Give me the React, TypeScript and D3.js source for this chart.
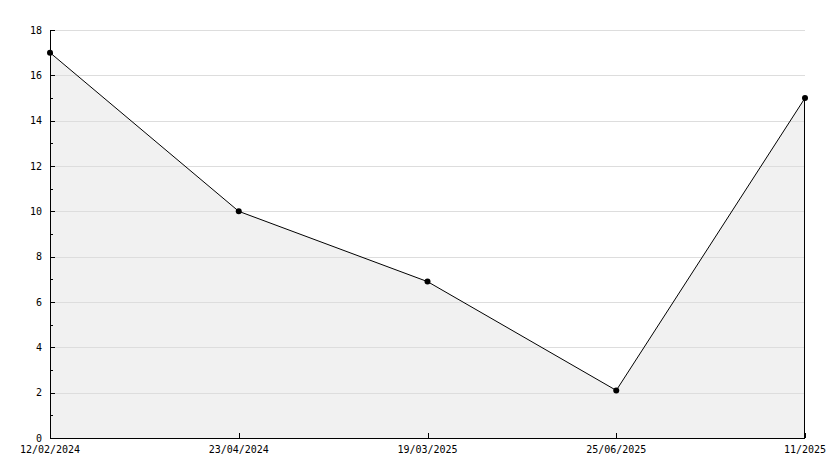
import React from "react";
import * as d3 from "d3";

const categories = ["12/02/2024", "23/04/2024", "19/03/2025", "25/06/2025", "11/2025"];
const values = [17, 10, 6.9, 2.1, 15];
const yMajorTicks = [0, 2, 4, 6, 8, 10, 12, 14, 16, 18];
const yMinorTicks = [1, 3, 5, 7, 9, 11, 13, 15, 17];

export default function App() {
  const W = 834, H = 468;
  const left = 50, right = 805, top = 30, bottom = 438;
  const x = d3.scalePoint<string>().domain(categories).range([left, right]);
  const y = d3.scaleLinear().domain([0, 18]).range([bottom, top]);
  const pts = categories.map((c, i) => [x(c)!, y(values[i])] as [number, number]);
  const line = d3.line()(pts)!;
  const area = d3.area<[number, number]>().x(d => d[0]).y0(bottom).y1(d => d[1])(pts)!;
  const font = "'DejaVu Sans Mono', monospace";
  const lastX = x(categories[categories.length - 1])!;
  const lastY = y(values[values.length - 1]);
  return (
    <svg width={W} height={H} style={{ position: "absolute", left: 0, top: 0, background: "#fff" }}>
      <rect x={0} y={0} width={W} height={H} fill="#fff" />
      <path d={area} fill="#f1f1f1" />
      {yMajorTicks.filter(t => t > 0).map(t => (
        <line key={"g" + t} x1={left} x2={right} y1={Math.round(y(t)) + 0.5} y2={Math.round(y(t)) + 0.5} stroke="#dddddd" strokeWidth={1} />
      ))}
      <line x1={lastX - 0.5} x2={lastX - 0.5} y1={lastY} y2={bottom} stroke="#000" strokeWidth={1} />
      <path d={line} fill="none" stroke="#000" strokeWidth={1} />
      {pts.map((p, i) => (
        <circle key={"m" + i} cx={p[0]} cy={p[1]} r={3} fill="#000" />
      ))}
      <line x1={left + 0.5} x2={left + 0.5} y1={top} y2={bottom + 0.5} stroke="#000" />
      <line x1={left} x2={right} y1={bottom + 0.5} y2={bottom + 0.5} stroke="#000" />
      {yMajorTicks.map(t => (
        <g key={"yt" + t}>
          <line x1={left} x2={left + 5} y1={Math.round(y(t)) + 0.5} y2={Math.round(y(t)) + 0.5} stroke="#000" />
          <text x={42} y={y(t)} dy="0.35em" textAnchor="end" fontFamily={font} fontSize={10} fill="#000">{t}</text>
        </g>
      ))}
      {yMinorTicks.map(t => (
        <line key={"ym" + t} x1={left} x2={left + 3} y1={Math.round(y(t)) + 0.5} y2={Math.round(y(t)) + 0.5} stroke="#000" />
      ))}
      {categories.map(c => (
        <g key={"xt" + c}>
          <line x1={Math.round(x(c)!) + 0.5} x2={Math.round(x(c)!) + 0.5} y1={bottom - 5} y2={bottom} stroke="#000" />
          <text x={x(c)} y={449} dy="0.35em" textAnchor="middle" fontFamily={font} fontSize={10} fill="#000">{c}</text>
        </g>
      ))}
    </svg>
  );
}
